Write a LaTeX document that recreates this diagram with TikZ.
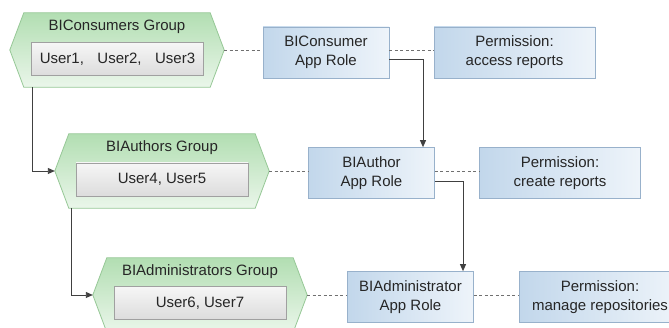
\documentclass[tikz,border=0pt]{standalone}
\usepackage{fontspec}
\setmainfont{Liberation Sans}
\usetikzlibrary{arrows.meta,shadows,calc}
\definecolor{txt}{HTML}{262626}
\definecolor{hexT}{HTML}{B2DEB2}
\definecolor{hexB}{HTML}{EAF6EA}
\definecolor{hexborder}{HTML}{96C896}
\definecolor{userT}{HTML}{F6F6F6}
\definecolor{userB}{HTML}{DCDCDC}
\definecolor{userborder}{HTML}{A0A0A0}
\definecolor{roleL}{HTML}{C2D7EB}
\definecolor{roleR}{HTML}{EEF4FA}
\definecolor{blueborder}{HTML}{98B1CB}
\definecolor{dashcol}{HTML}{707070}
\definecolor{arrcol}{HTML}{404040}
\begin{document}
\begin{tikzpicture}[x=1pt,y=-1pt,
  font=\fontsize{15}{19}\selectfont, text=txt,
  hexnode/.style={minimum width=214pt, minimum height=74pt, inner sep=0pt},
  hexfill/.style={draw=hexborder, line width=0.8pt, top color=hexT, bottom color=hexB},
  grouptitle/.style={inner sep=0pt},
  userbox/.style={draw=userborder, line width=0.7pt, top color=userT, bottom color=userB,
    minimum width=172pt, minimum height=33pt, inner sep=0pt,
    drop shadow={shadow xshift=0.7pt, shadow yshift=-1pt, opacity=0.35}},
  rolebox/.style={draw=blueborder, line width=0.7pt, left color=roleL, right color=roleR,
    minimum width=126pt, minimum height=51pt, inner sep=0pt, align=center,
    drop shadow={shadow xshift=0.8pt, shadow yshift=-1pt, opacity=0.35}},
  permbox/.style={rolebox, minimum width=161pt},
  dashline/.style={draw=dashcol, line width=0.7pt, dash pattern=on 3pt off 2.5pt},
  arr/.style={draw=arrcol, line width=0.9pt, -{Triangle[length=7pt,width=6pt]}}
]
\useasboundingbox[fill=white] (0,0) rectangle (669,328);

% group frames (invisible nodes, hexagons drawn from their anchors)
\node[hexnode] (h1) at (117,50) {};
\node[hexnode] (h2) at (162,171) {};
\node[hexnode] (h3) at (200,295) {};
\foreach \h in {h1,h2,h3}{
  \path[hexfill] (\h.west) -- ([xshift=14pt]\h.north west) -- ([xshift=-14pt]\h.north east)
    -- (\h.east) -- ([xshift=-14pt]\h.south east) -- ([xshift=14pt]\h.south west) -- cycle;
}

\node[grouptitle] (t1) at (117,27) {BIConsumers Group};
\node[userbox] (u1) at (117.5,59) {User1,\hspace{0.9em}User2,\hspace{0.9em}User3};
\node[grouptitle] (t2) at (162,148) {BIAuthors Group};
\node[userbox] (u2) at (162,179.5) {User4, User5};
\node[grouptitle] (t3) at (200,272) {BIAdministrators Group};
\node[userbox] (u3) at (200,303) {User6, User7};

% app roles and permissions
\node[rolebox] (r1) at (326,52.5) {BIConsumer\\App Role};
\node[permbox] (p1) at (514.5,52.5) {Permission:\\access reports};
\node[rolebox] (r2) at (371.5,173) {BIAuthor\\App Role};
\node[permbox] (p2) at (560,173) {Permission:\\create reports};
\node[rolebox] (r3) at (410.5,297) {BIAdministrator\\App Role};
\node[permbox] (p3) at (600,297) {Permission:\\manage repositories};

% dashed links
\draw[dashline] (h1.east) -- (h1.east -| r1.west);
\draw[dashline] (h1.east -| r1.east) -- (h1.east -| p1.west);
\draw[dashline] (h2.east) -- (h2.east -| r2.west);
\draw[dashline] (h2.east -| r2.east) -- (h2.east -| p2.west);
\draw[dashline] (h3.east) -- (h3.east -| r3.west);
\draw[dashline] (h3.east -| r3.east) -- (h3.east -| p3.west);

% hierarchy arrows
\draw[arr] ([xshift=23pt]h1.south west) |- (h2.west);
\draw[arr] ([xshift=17pt]h2.south west) |- (h3.west);
\draw[arr] ([yshift=-6.5pt]r1.east) -| ([xshift=51.5pt]r2.north);
\draw[arr] ([yshift=-8pt]r2.east) -| ([xshift=52.5pt]r3.north);
\end{tikzpicture}
\end{document}
